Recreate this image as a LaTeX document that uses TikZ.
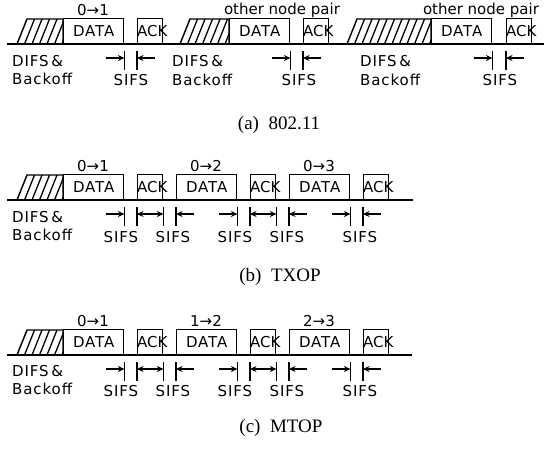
\documentclass[tikz,border=0pt]{standalone}
\usepackage{fontspec}
\setmainfont{Liberation Serif}
\newfontfamily\diagfont{DejaVu Sans}
\newfontfamily\diagwide[LetterSpace=6]{DejaVu Sans}
\usetikzlibrary{arrows.meta}
\newcommand\hatchbox[3]{%
  \begin{scope}
    \clip (#1,#2) -- (#1+10,#2-25) -- (#3,#2-25) -- (#3,#2) -- cycle;
    \foreach \k in {1,...,14} \draw[hatchln] (#1+\k*7.5,#2) -- ++(10,-25);
  \end{scope}
  \draw[ln] (#1,#2) -- (#1+10,#2-25) -- (#3,#2-25) -- (#3,#2);
}
\newcommand\tk[1]{\draw[ln] (#1) ++(0,7) -- ++(0,19);}
\begin{document}
\begin{tikzpicture}[x=1pt,y=-1pt,
  ln/.style={line width=1.4pt},
  hatchln/.style={line width=1.3pt},
  pkt/.style={draw, line width=1.4pt, inner sep=0pt, minimum height=25pt, anchor=south west, font=\diagwide\fontsize{15}{18}\selectfont},
  lbl/.style={font=\diagfont\fontsize{15}{18}\selectfont, inner sep=0pt},
  wlbl/.style={font=\diagwide\fontsize{15}{18}\selectfont, inner sep=0pt},
  sarr/.style={line width=1.4pt, -{Stealth[length=6.5pt,width=6pt]}},
  darr/.style={line width=1.4pt, {Stealth[length=6.5pt,width=6pt]}-{Stealth[length=6.5pt,width=6pt]}},
  captxt/.style={font=\fontsize{19}{22}\selectfont, inner sep=0pt}]
\useasboundingbox (0,0) rectangle (544,451);

% ---------------- (a) 802.11 ----------------
\coordinate (l1s) at (7,44);
\coordinate (l1e) at (544,44);
\draw[ln] (l1s) -- (l1e);
\hatchbox{17}{44}{63}
\node[pkt, minimum width=60pt] (d1) at (63,44) {DATA};
\node[pkt, minimum width=25pt, label={[lbl, xshift=2pt]center:ACK}] (a1) at (137,44) {};
\node[lbl] (t1) at (93,10) {0→1};
\hatchbox{180}{44}{229}
\node[pkt, minimum width=60pt] (d2) at (229,44) {DATA};
\node[pkt, minimum width=25pt, label={[lbl, xshift=2pt]center:ACK}] (a2) at (303,44) {};
\node[lbl] (t2) at (282,10) {other node pair};
\hatchbox{347}{44}{431}
\node[pkt, minimum width=60pt] (d3) at (431,44) {DATA};
\node[pkt, minimum width=25pt, label={[lbl, xshift=2pt]center:ACK}] (a3) at (506,44) {};
\node[lbl] (t3) at (481,10) {other node pair};

\node[wlbl, anchor=west] (df1) at (12,61) {DIFS\,\&};
\node[wlbl, anchor=west] (bo1) at (12,79) {Backoff};
\node[wlbl, anchor=west] (df2) at (172,61) {DIFS\,\&};
\node[wlbl, anchor=west] (bo2) at (172,80) {Backoff};
\node[wlbl, anchor=west] (df3) at (360,61) {DIFS\,\&};
\node[wlbl, anchor=west] (bo3) at (360,80) {Backoff};

\tk{d1.south east}\tk{a1.south west}
\draw[sarr] ([shift={(-18,14)}]d1.south east) -- ([shift={(0,14)}]d1.south east);
\draw[sarr] ([shift={(18,14)}]a1.south west) -- ([shift={(0,14)}]a1.south west);
\node[wlbl] (s1) at (131,80) {SIFS};
\tk{d2.south east}\tk{a2.south west}
\draw[sarr] ([shift={(-18,14)}]d2.south east) -- ([shift={(0,14)}]d2.south east);
\draw[sarr] ([shift={(18,14)}]a2.south west) -- ([shift={(0,14)}]a2.south west);
\node[wlbl] (s2) at (299,80) {SIFS};
\tk{d3.south east}\tk{a3.south west}
\draw[sarr] ([shift={(-18,14)}]d3.south east) -- ([shift={(0,14)}]d3.south east);
\draw[sarr] ([shift={(18,14)}]a3.south west) -- ([shift={(0,14)}]a3.south west);
\node[wlbl] (s3) at (500,80) {SIFS};

\node[captxt] (ca) at (279,125) {(a)\hspace{0.5em}802.11};

% ---------------- (b) TXOP ----------------
\coordinate (l2s) at (7,200);
\coordinate (l2e) at (413,200);
\draw[ln] (l2s) -- (l2e);
\hatchbox{17}{200}{63}
\node[pkt, minimum width=60pt] (d4) at (63,200) {DATA};
\node[pkt, minimum width=25pt, label={[lbl, xshift=2pt]center:ACK}] (a4) at (137,200) {};
\node[pkt, minimum width=60pt] (d5) at (176,200) {DATA};
\node[pkt, minimum width=25pt, label={[lbl, xshift=2pt]center:ACK}] (a5) at (250,200) {};
\node[pkt, minimum width=60pt] (d6) at (289,200) {DATA};
\node[pkt, minimum width=25pt, label={[lbl, xshift=2pt]center:ACK}] (a6) at (363,200) {};
\node[lbl] (t4) at (93,166) {0→1};
\node[lbl] (t5) at (206,166) {0→2};
\node[lbl] (t6) at (319,166) {0→3};
\node[wlbl, anchor=west] (df4) at (12,217) {DIFS\,\&};
\node[wlbl, anchor=west] (bo4) at (12,235) {Backoff};

\tk{d4.south east}\tk{a4.south west}\tk{a4.south east}\tk{d5.south west}
\tk{d5.south east}\tk{a5.south west}\tk{a5.south east}\tk{d6.south west}
\tk{d6.south east}\tk{a6.south west}
\draw[sarr] ([shift={(-18,14)}]d4.south east) -- ([shift={(0,14)}]d4.south east);
\draw[darr] ([shift={(0,14)}]a4.south west) -- ([shift={(0,14)}]a4.south east);
\draw[sarr] ([shift={(18,14)}]d5.south west) -- ([shift={(0,14)}]d5.south west);
\draw[sarr] ([shift={(-18,14)}]d5.south east) -- ([shift={(0,14)}]d5.south east);
\draw[darr] ([shift={(0,14)}]a5.south west) -- ([shift={(0,14)}]a5.south east);
\draw[sarr] ([shift={(18,14)}]d6.south west) -- ([shift={(0,14)}]d6.south west);
\draw[sarr] ([shift={(-18,14)}]d6.south east) -- ([shift={(0,14)}]d6.south east);
\draw[sarr] ([shift={(18,14)}]a6.south west) -- ([shift={(0,14)}]a6.south west);
\node[wlbl] (s4) at (121,237) {SIFS};
\node[wlbl] (s5) at (173,237) {SIFS};
\node[wlbl] (s6) at (235,237) {SIFS};
\node[wlbl] (s7) at (287,237) {SIFS};
\node[wlbl] (s8) at (360,237) {SIFS};

\node[captxt] (cb) at (280,277) {(b)\hspace{0.5em}TXOP};

% ---------------- (c) MTOP ----------------
\coordinate (l3s) at (7,355);
\coordinate (l3e) at (412,355);
\draw[ln] (l3s) -- (l3e);
\hatchbox{17}{355}{63}
\node[pkt, minimum width=60pt] (d7) at (63,355) {DATA};
\node[pkt, minimum width=25pt, label={[lbl, xshift=2pt]center:ACK}] (a7) at (137,355) {};
\node[pkt, minimum width=60pt] (d8) at (176,355) {DATA};
\node[pkt, minimum width=25pt, label={[lbl, xshift=2pt]center:ACK}] (a8) at (250,355) {};
\node[pkt, minimum width=60pt] (d9) at (289,355) {DATA};
\node[pkt, minimum width=25pt, label={[lbl, xshift=2pt]center:ACK}] (a9) at (363,355) {};
\node[lbl] (t7) at (93,321) {0→1};
\node[lbl] (t8) at (206,321) {1→2};
\node[lbl] (t9) at (319,321) {2→3};
\node[wlbl, anchor=west] (df7) at (12,371) {DIFS\,\&};
\node[wlbl, anchor=west] (bo7) at (12,389) {Backoff};

\tk{d7.south east}\tk{a7.south west}\tk{a7.south east}\tk{d8.south west}
\tk{d8.south east}\tk{a8.south west}\tk{a8.south east}\tk{d9.south west}
\tk{d9.south east}\tk{a9.south west}
\draw[sarr] ([shift={(-18,14)}]d7.south east) -- ([shift={(0,14)}]d7.south east);
\draw[darr] ([shift={(0,14)}]a7.south west) -- ([shift={(0,14)}]a7.south east);
\draw[sarr] ([shift={(18,14)}]d8.south west) -- ([shift={(0,14)}]d8.south west);
\draw[sarr] ([shift={(-18,14)}]d8.south east) -- ([shift={(0,14)}]d8.south east);
\draw[darr] ([shift={(0,14)}]a8.south west) -- ([shift={(0,14)}]a8.south east);
\draw[sarr] ([shift={(18,14)}]d9.south west) -- ([shift={(0,14)}]d9.south west);
\draw[sarr] ([shift={(-18,14)}]d9.south east) -- ([shift={(0,14)}]d9.south east);
\draw[sarr] ([shift={(18,14)}]a9.south west) -- ([shift={(0,14)}]a9.south west);
\node[wlbl] (s9) at (121,391) {SIFS};
\node[wlbl] (s10) at (173,391) {SIFS};
\node[wlbl] (s11) at (235,391) {SIFS};
\node[wlbl] (s12) at (287,391) {SIFS};
\node[wlbl] (s13) at (360,391) {SIFS};

\node[captxt] (cc) at (281,428) {(c)\hspace{0.5em}MTOP};
\end{tikzpicture}
\end{document}
